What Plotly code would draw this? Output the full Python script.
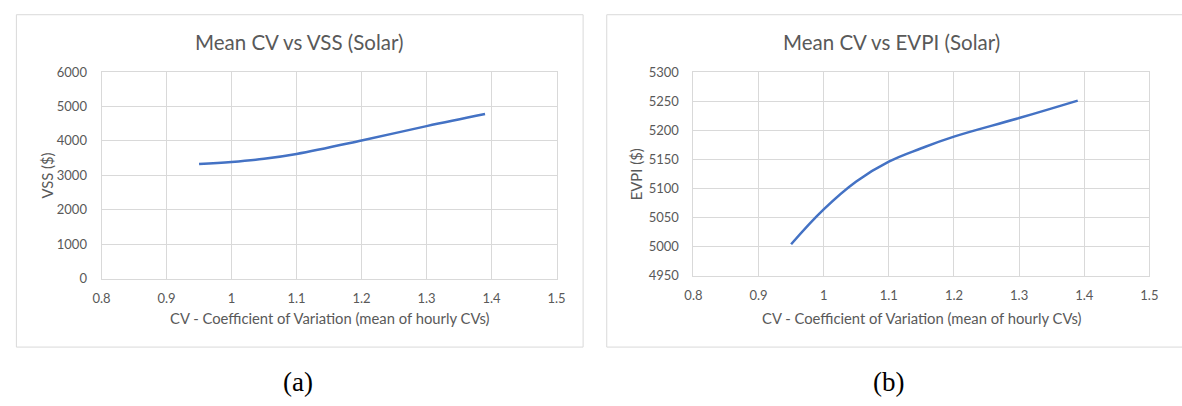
import plotly.graph_objects as go

# Mean coefficient of variation of hourly solar output
cv_vss = [0.95, 1.0, 1.05, 1.1, 1.2, 1.3, 1.39]
vss_values = [3330, 3390, 3480, 3620, 4010, 4430, 4780]

cv_evpi = [0.95, 1.0, 1.05, 1.1, 1.15, 1.2, 1.3, 1.39]
evpi_values = [5004, 5064, 5112, 5146, 5169, 5189, 5221, 5251]

x_ticks = [0.8, 0.9, 1.0, 1.1, 1.2, 1.3, 1.4, 1.5]
x_tick_text = ["0.8", "0.9", "1", "1.1", "1.2", "1.3", "1.4", "1.5"]
vss_ticks = [0, 1000, 2000, 3000, 4000, 5000, 6000]
evpi_ticks = [4950, 5000, 5050, 5100, 5150, 5200, 5250, 5300]

W, H = 1182, 406
FONT = "Lato"
TEXT = "#595959"
GRID = "#D9D9D9"
LINE = "#4472C4"


def px_x(v):
    return v / W


def px_y(v):
    return 1 - v / H


fig = go.Figure()
fig.add_trace(go.Scatter(x=cv_vss, y=vss_values, mode="lines",
                         line=dict(color=LINE, width=2.5, shape="spline", smoothing=1.1),
                         xaxis="x", yaxis="y", showlegend=False))
fig.add_trace(go.Scatter(x=cv_evpi, y=evpi_values, mode="lines",
                         line=dict(color=LINE, width=2.5, shape="spline", smoothing=1.2),
                         xaxis="x2", yaxis="y2", showlegend=False))

common_x = dict(range=[0.8, 1.5], tickvals=x_ticks, ticktext=x_tick_text,
                showgrid=True, gridcolor=GRID, gridwidth=1,
                showline=True, linecolor=GRID, linewidth=1, mirror=True,
                zeroline=False, ticks="", ticklabelstandoff=8,
                tickfont=dict(family=FONT, size=13, color=TEXT), fixedrange=True)
common_y = dict(showgrid=True, gridcolor=GRID, gridwidth=1,
                showline=True, linecolor=GRID, linewidth=1, mirror=True,
                zeroline=False, ticks="", ticklabelstandoff=11,
                tickfont=dict(family=FONT, size=13, color=TEXT), fixedrange=True)

fig.update_layout(
    width=W, height=H,
    margin=dict(l=0, r=0, t=0, b=0),
    paper_bgcolor="white", plot_bgcolor="white",
    xaxis=dict(domain=[px_x(94), px_x(556)], anchor="y", **common_x),
    yaxis=dict(domain=[px_y(281.7), px_y(66.7)], anchor="x",
               range=[0, 6000], tickvals=vss_ticks, **common_y),
    xaxis2=dict(domain=[px_x(695), px_x(1158)], anchor="y2", **common_x),
    yaxis2=dict(domain=[px_y(278.7), px_y(66.7)], anchor="x2",
                range=[4950, 5300], tickvals=evpi_ticks, **common_y),
)

# Chart frames
for x0, x1 in [(7.5, 583), (607, 1200)]:
    fig.add_shape(type="rect", xref="paper", yref="paper",
                  x0=px_x(x0), x1=px_x(x1), y0=px_y(353), y1=px_y(7),
                  line=dict(color=GRID, width=1), fillcolor="rgba(0,0,0,0)", layer="below")

texts = [
    ("Mean CV vs VSS (Solar)", 295, 35, 20.5, 0, FONT, TEXT),
    ("Mean CV vs EVPI (Solar)", 896, 35, 20.5, 0, FONT, TEXT),
    ("CV - Coefficient of Variation (mean of hourly CVs)", 325, 323, 14.8, 0, FONT, TEXT),
    ("CV - Coefficient of Variation (mean of hourly CVs)", 926.5, 323, 14.8, 0, FONT, TEXT),
    ("VSS ($)", 39, 174, 14.8, -90, FONT, TEXT),
    ("EVPI ($)", 637, 172.7, 14.8, -90, FONT, TEXT),
    ("(a)", 293, 389, 27, 0, "Liberation Serif", "black"),
    ("(b)", 893, 389, 27, 0, "Liberation Serif", "black"),
]
for txt, x, y, size, ang, fam, col in texts:
    fig.add_annotation(text=txt, x=px_x(x), y=px_y(y), xref="paper", yref="paper",
                       xanchor="center", yanchor="middle", showarrow=False, textangle=ang,
                       font=dict(family=fam, size=size, color=col))

fig.write_html("out.html",
               post_script="document.body.style.margin='0';"
                           "document.body.style.overflow='hidden';")
